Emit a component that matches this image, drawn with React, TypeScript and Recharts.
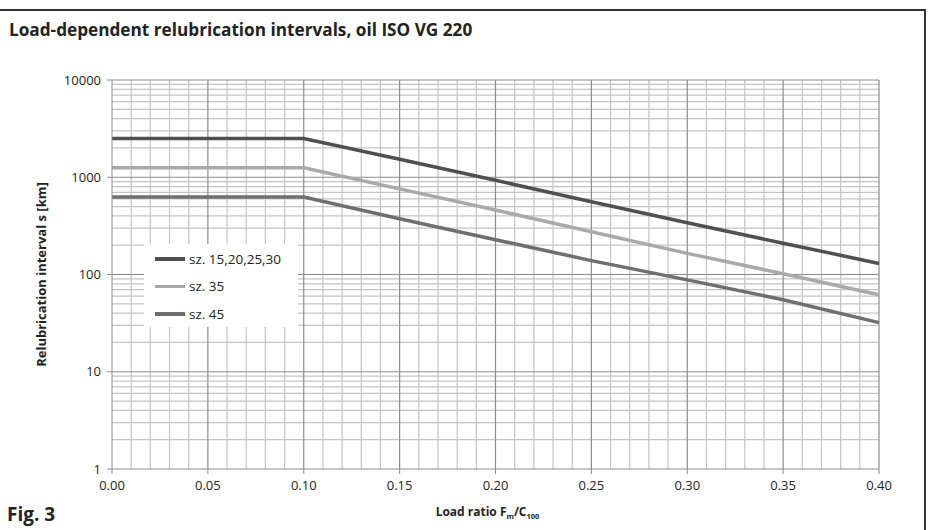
import React from "react";
import { LineChart, Line, XAxis, YAxis, ReferenceLine } from "recharts";

const loadRatio = [0, 0.05, 0.1, 0.15, 0.2, 0.25, 0.3, 0.35, 0.4];
const sz15to30 = [2500, 2500, 2500, 1530, 930, 560, 340, 210, 130];
const sz35 = [1250, 1250, 1250, 760, 460, 275, 165, 102, 62];
const sz45 = [625, 625, 625, 375, 228, 139, 88, 55, 32];

const xTicks = [0, 0.05, 0.1, 0.15, 0.2, 0.25, 0.3, 0.35, 0.4];
const yTicks = [1, 10, 100, 1000, 10000];

const seriesInfo = [
  { key: "a", name: "sz. 15,20,25,30", color: "#505050" },
  { key: "b", name: "sz. 35", color: "#a9a9a9" },
  { key: "c", name: "sz. 45", color: "#6f6f6f" },
];

const data = loadRatio.map((x, i) => ({
  x,
  a: sz15to30[i],
  b: sz35[i],
  c: sz45[i],
}));

// grid positions (every 0.01 on x, 2..9 per decade on y)
const vMinor: number[] = [];
const vMajor: number[] = [];
for (let i = 1; i <= 40; i++) {
  if (i % 5 === 0) vMajor.push(i / 100);
  else vMinor.push(i / 100);
}
const hMinor: number[] = [];
for (const d of [1, 10, 100, 1000]) {
  for (let k = 2; k <= 9; k++) hMinor.push(d * k);
}
const hMajor = [10, 100, 1000, 10000];

const tickFont = "'Open Sans', 'Liberation Sans', sans-serif";
const boldFont = "'Open Sans', sans-serif";

function LegendBox() {
  return (
    <div
      style={{
        position: "absolute",
        left: 144,
        top: 244,
        background: "#fff",
        width: 154,
        height: 83,
        boxSizing: "border-box",
        paddingTop: 1,
        paddingLeft: 11,
        fontFamily: tickFont,
        fontSize: 13.5,
        color: "#222",
      }}
    >
      {seriesInfo.map((s) => (
        <div
          key={s.key}
          style={{ display: "flex", alignItems: "center", height: 27.5 }}
        >
          <span
            style={{
              display: "inline-block",
              width: 30,
              height: 3.5,
              background: s.color,
              marginRight: 4,
            }}
          />
          {s.name}
        </div>
      ))}
    </div>
  );
}

function XLabel(props: any) {
  const { viewBox } = props;
  const cx = viewBox.x + viewBox.width / 2 - 8;
  return (
    <text
      x={cx}
      y={viewBox.y + viewBox.height + 17}
      textAnchor="middle"
      fontFamily={boldFont}
      fontWeight="bold"
      fontSize={12}
      fill="#222"
    >
      Load ratio F
      <tspan fontSize={7.5} dy={3}>
        m
      </tspan>
      <tspan dy={-3}>/C</tspan>
      <tspan fontSize={7.5} dy={3}>
        100
      </tspan>
    </text>
  );
}

export default function App() {
  return (
    <div
      style={{
        position: "absolute",
        left: 0,
        top: 0,
        width: 930,
        height: 530,
        background: "#fff",
      }}
    >
      <LineChart
        width={930}
        height={530}
        data={data}
        margin={{ top: 80, right: 51, left: 52, bottom: 31 }}
        style={{ position: "absolute", left: 0, top: 0 }}
      >
        {vMinor.map((v) => (
          <ReferenceLine key={"vm" + v} x={v} stroke="#c4c4c4" strokeWidth={1.2} />
        ))}
        {hMinor.map((v) => (
          <ReferenceLine key={"hm" + v} y={v} stroke="#c4c4c4" strokeWidth={1.2} />
        ))}
        {vMajor.map((v) => (
          <ReferenceLine key={"vM" + v} x={v} stroke="#8c8c8c" strokeWidth={1.2} />
        ))}
        {hMajor.map((v) => (
          <ReferenceLine key={"hM" + v} y={v} stroke="#8c8c8c" strokeWidth={1.2} />
        ))}
        <XAxis
          dataKey="x"
          type="number"
          domain={[0, 0.4]}
          ticks={xTicks}
          tickFormatter={(v: number) => v.toFixed(2)}
          height={30}
          stroke="#8c8c8c"
          tickSize={5}
          tickMargin={7}
          tick={{ fill: "#222", fontSize: 13, fontFamily: tickFont }}
          label={<XLabel />}
        />
        <YAxis
          scale="log"
          domain={[1, 10000]}
          ticks={yTicks}
          allowDataOverflow
          width={60}
          stroke="#8c8c8c"
          tickSize={5}
          tickMargin={6}
          tick={{ fill: "#222", fontSize: 13, fontFamily: tickFont }}
          label={{
            value: "Relubrication interval s [km]",
            angle: -90,
            position: "insideLeft",
            offset: -11,
            style: {
              textAnchor: "middle",
              fontFamily: boldFont,
              fontWeight: "bold",
              fontSize: 13,
              fill: "#222",
            },
          }}
        />
        {seriesInfo.map((s) => (
          <Line
            key={s.key}
            type="linear"
            dataKey={s.key}
            name={s.name}
            stroke={s.color}
            strokeWidth={3.5}
            dot={false}
            isAnimationActive={false}
          />
        ))}
      </LineChart>
      <LegendBox />
      <div
        style={{
          position: "absolute",
          left: 0,
          top: 9,
          width: 924,
          height: 530,
          borderTop: "2px solid #333",
          borderRight: "2px solid #333",
        }}
      />
      <div
        style={{
          position: "absolute",
          left: 9,
          top: 18,
          fontFamily: boldFont,
          fontWeight: "bold",
          fontSize: 17.2,
          color: "#222",
          whiteSpace: "nowrap",
        }}
      >
        Load-dependent relubrication intervals, oil ISO VG 220
      </div>
      <div
        style={{
          position: "absolute",
          left: 7,
          top: 501,
          fontFamily: boldFont,
          fontWeight: "bold",
          fontSize: 19,
          color: "#222",
        }}
      >
        Fig. 3
      </div>
    </div>
  );
}
